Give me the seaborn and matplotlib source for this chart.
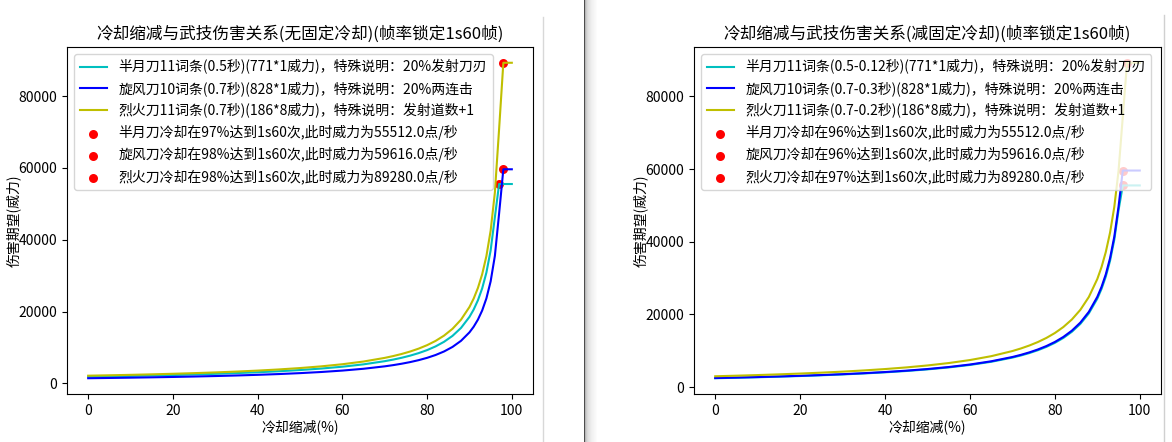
import numpy as np
import matplotlib
matplotlib.use("Agg")
import matplotlib.pyplot as plt
from matplotlib.lines import Line2D
import seaborn as sns

plt.rcParams['font.family'] = ['Noto Sans CJK SC', 'DejaVu Sans']
plt.rcParams['axes.unicode_minus'] = False

# 冷却缩减 (%)
cdr = [0, 5, 10, 15, 20, 25, 30, 35, 40, 45, 50, 55, 60, 65, 70,
       72, 74, 76, 78, 80, 82, 84, 86, 88, 90,
       91, 92, 93, 94, 95, 96, 97, 98, 99, 100]

# ---- 无固定冷却 ----
left_banyue = [1850, 1948, 2056, 2177, 2313, 2467, 2643, 2847, 3084, 3364, 3701, 4112, 4626, 5287, 6168,
               6609, 7117, 7710, 8411, 9252, 10280, 11565, 13217, 15420, 18504,
               20560, 23130, 26434, 30840, 37008, 46260, 55512, 55512, 55512, 55512]
left_xuanfeng = [1419, 1494, 1577, 1670, 1774, 1893, 2028, 2184, 2366, 2581, 2839, 3154, 3549, 4055, 4731,
                 5069, 5459, 5914, 6452, 7097, 7886, 8871, 10139, 11829, 14194,
                 15771, 17743, 20278, 23657, 28389, 35486, 47314, 59616, 59616, 59616]
left_liehuo = [2126, 2238, 2362, 2501, 2657, 2834, 3037, 3270, 3543, 3865, 4251, 4724, 5314, 6073, 7086,
               7592, 8176, 8857, 9662, 10629, 11810, 13286, 15184, 17714, 21257,
               23619, 26571, 30367, 35429, 42514, 53143, 70857, 89280, 89280, 89280]
left_pt_x = [97, 98, 98]
left_pt_y = [55512, 59616, 89280]

# ---- 减固定冷却 ----
right_banyue = [2435, 2563, 2705, 2864, 3043, 3246, 3478, 3746, 4058, 4427, 4869, 5411, 6087, 6956, 8116,
                8696, 9364, 10145, 11067, 12174, 13526, 15217, 17391, 20289, 24347,
                27053, 30434, 34782, 40579, 48695, 55512, 55512, 55512, 55512, 55512]
right_xuanfeng = [2484, 2615, 2760, 2922, 3105, 3312, 3549, 3822, 4140, 4516, 4968, 5520, 6210, 7097, 8280,
                  8871, 9554, 10350, 11291, 12420, 13800, 15525, 17743, 20700, 24840,
                  27600, 31050, 35486, 41400, 49680, 59616, 59616, 59616, 59616, 59616]
right_liehuo = [2976, 3133, 3307, 3501, 3720, 3968, 4251, 4578, 4960, 5411, 5952, 6613, 7440, 8503, 9920,
                10629, 11446, 12400, 13527, 14880, 16533, 18600, 21257, 24800, 29760,
                33067, 37200, 42514, 49600, 59520, 74400, 89280, 89280, 89280, 89280]
right_pt_x = [96, 96, 97]
right_pt_y = [55512, 59616, 89280]

line_colors = ["c", "b", "y"]

left_labels = ["半月刀11词条(0.5秒)(771*1威力)，特殊说明：20%发射刀刃",
               "旋风刀10词条(0.7秒)(828*1威力)，特殊说明：20%两连击",
               "烈火刀11词条(0.7秒)(186*8威力)，特殊说明：发射道数+1"]
left_pt_labels = ["半月刀冷却在97%达到1s60次,此时威力为55512.0点/秒",
                  "旋风刀冷却在98%达到1s60次,此时威力为59616.0点/秒",
                  "烈火刀冷却在98%达到1s60次,此时威力为89280.0点/秒"]
right_labels = ["半月刀11词条(0.5-0.12秒)(771*1威力)，特殊说明：20%发射刀刃",
                "旋风刀10词条(0.7-0.3秒)(828*1威力)，特殊说明：20%两连击",
                "烈火刀11词条(0.7-0.2秒)(186*8威力)，特殊说明：发射道数+1"]
right_pt_labels = ["半月刀冷却在96%达到1s60次,此时威力为55512.0点/秒",
                   "旋风刀冷却在96%达到1s60次,此时威力为59616.0点/秒",
                   "烈火刀冷却在97%达到1s60次,此时威力为89280.0点/秒"]


def draw(ax, title, labels, series, pt_x, pt_y, pt_labels):
    for lab, ys, col in zip(labels, series, line_colors):
        sns.lineplot(x=cdr, y=ys, color=col, label=lab, linewidth=1.5, ax=ax)
    for x, y, lab in zip(pt_x, pt_y, pt_labels):
        sns.scatterplot(x=[x], y=[y], color="r", s=42, linewidth=0, label=lab, ax=ax)
    ax.set_title(title, fontsize=12)
    ax.set_xlabel("冷却缩减(%)", labelpad=1)
    ax.set_ylabel("伤害期望(威力)", labelpad=-2)
    ax.set_xticks([0, 20, 40, 60, 80, 100])
    ax.legend(loc="upper left", fontsize=10)


W, H = 1172, 442
fig = plt.figure(figsize=(W / 100, H / 100), dpi=100)
ax1 = fig.add_axes([67 / W, 48 / H, 466 / W, 347 / H])
ax2 = fig.add_axes([694 / W, 48 / H, 467 / W, 347 / H])

draw(ax1, "冷却缩减与武技伤害关系(无固定冷却)(帧率锁定1s60帧)",
     left_labels, [left_banyue, left_xuanfeng, left_liehuo],
     left_pt_x, left_pt_y, left_pt_labels)
draw(ax2, "冷却缩减与武技伤害关系(减固定冷却)(帧率锁定1s60帧)",
     right_labels, [right_banyue, right_xuanfeng, right_liehuo],
     right_pt_x, right_pt_y, right_pt_labels)

# window borders of the screenshot
fig.add_artist(Line2D([543 / W, 543 / W], [0, 1 - 17 / H], color="#d8d8d8", lw=1))
fig.add_artist(Line2D([1164 / W, 1164 / W], [0, 1 - 15 / H], color="#d0d0d0", lw=1))
shade = np.array([0.30, 0.72, 0.80, 0.85, 0.88, 0.90, 0.92, 0.94, 0.95, 0.96, 0.97, 0.98, 0.99])
grad = np.tile(shade[None, :, None], (H, 1, 3))
fig.figimage(grad, xo=584, yo=0, origin="upper", zorder=3)

fig.savefig("out.png", dpi=100)
